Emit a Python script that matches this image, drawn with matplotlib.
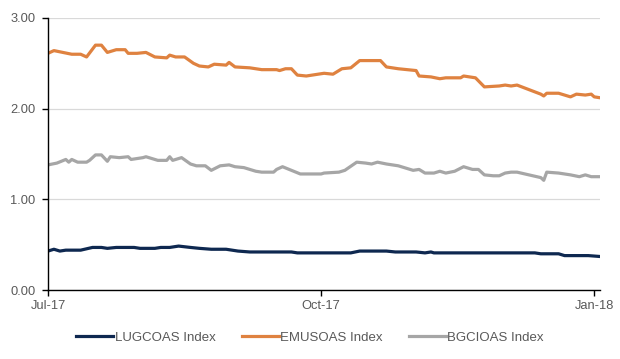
import matplotlib
matplotlib.use("Agg")
import matplotlib.pyplot as plt
import pandas as pd

plt.rcParams['font.family'] = ['Liberation Sans', 'DejaVu Sans']

START = "2017-07-01"

# Days since 2017-07-01 and values
lug_days = [0, 2, 4, 6, 11, 15, 18, 20, 23, 29, 31, 36, 38, 41, 44, 48, 51, 55, 60, 64,
            68, 82, 84, 92, 102, 105, 114, 117, 124, 127, 129, 130, 164, 166, 172, 174, 182, 186]
lug_vals = [0.43, 0.45, 0.43, 0.44, 0.44, 0.47, 0.47, 0.46, 0.47, 0.47, 0.46, 0.46, 0.47, 0.47,
            0.485, 0.47, 0.46, 0.45, 0.45, 0.43, 0.42, 0.42, 0.41, 0.41, 0.41, 0.43, 0.43, 0.42,
            0.42, 0.41, 0.42, 0.41, 0.41, 0.40, 0.40, 0.38, 0.38, 0.37]

emu_days = [0, 2, 5, 8, 11, 13, 16, 18, 20, 23, 26, 27, 30, 33, 36, 40, 41, 43, 46, 49, 51,
            54, 56, 60, 61, 63, 68, 72, 77, 78, 80, 82, 84, 87, 91, 93, 96, 99, 102, 105, 112,
            114, 116, 118, 124, 125, 129, 132, 134, 139, 140, 144, 147, 152, 154, 156, 158,
            162, 166, 167, 168, 172, 176, 178, 181, 183, 184, 186]
emu_vals = [2.61, 2.64, 2.62, 2.60, 2.60, 2.57, 2.70, 2.70, 2.62, 2.65, 2.65, 2.61, 2.61, 2.62,
            2.57, 2.56, 2.59, 2.57, 2.57, 2.50, 2.47, 2.46, 2.49, 2.48, 2.51, 2.46, 2.45, 2.43,
            2.43, 2.42, 2.44, 2.44, 2.37, 2.36, 2.38, 2.39, 2.38, 2.44, 2.45, 2.53, 2.53, 2.46,
            2.45, 2.44, 2.42, 2.36, 2.35, 2.33, 2.34, 2.34, 2.36, 2.34, 2.24, 2.25, 2.26, 2.25,
            2.26, 2.21, 2.16, 2.14, 2.17, 2.17, 2.13, 2.16, 2.15, 2.16, 2.13, 2.12]

bgc_days = [0, 3, 6, 7, 8, 10, 13, 14, 16, 18, 20, 21, 24, 27, 28, 32, 33, 34, 37, 40, 41, 42,
            45, 48, 50, 53, 55, 58, 61, 63, 66, 70, 72, 76, 77, 79, 82, 85, 92, 93, 98, 100,
            104, 107, 109, 111, 114, 118, 120, 123, 125, 127, 130, 132, 134, 137, 140, 143,
            145, 147, 150, 152, 154, 156, 158, 162, 166, 167, 168, 172, 176, 179, 181, 183, 186]
bgc_vals = [1.38, 1.40, 1.44, 1.41, 1.44, 1.41, 1.41, 1.43, 1.49, 1.49, 1.42, 1.47, 1.46, 1.47,
            1.44, 1.46, 1.47, 1.46, 1.43, 1.43, 1.47, 1.43, 1.46, 1.39, 1.37, 1.37, 1.32, 1.37,
            1.38, 1.36, 1.35, 1.31, 1.30, 1.30, 1.33, 1.36, 1.32, 1.28, 1.28, 1.29, 1.30, 1.32,
            1.41, 1.40, 1.39, 1.41, 1.39, 1.37, 1.35, 1.32, 1.33, 1.29, 1.29, 1.31, 1.29, 1.31,
            1.36, 1.33, 1.33, 1.27, 1.26, 1.26, 1.29, 1.30, 1.30, 1.27, 1.24, 1.21, 1.30, 1.29,
            1.27, 1.25, 1.27, 1.25, 1.25]

series_names = ["LUGCOAS Index", "EMUSOAS Index", "BGCIOAS Index"]
colors = ["#0E2850", "#DF8240", "#A6A6A6"]
tick_dates = ["2017-07-01", "2017-10-01", "2018-01-01"]
tick_labels = ["Jul-17", "Oct-17", "Jan-18"]
y_ticks = [0, 1, 2, 3]
y_labels = ["0.00", "1.00", "2.00", "3.00"]

def to_dates(days):
    return pd.Timestamp(START) + pd.to_timedelta(days, unit="D")

fig = plt.figure(figsize=(6.2, 3.59), dpi=100)
ax = fig.add_axes([0.0774, 0.192, 0.8906, 0.758])

for days, vals, name, c in zip([lug_days, emu_days, bgc_days],
                               [lug_vals, emu_vals, bgc_vals],
                               series_names, colors):
    ax.plot(to_dates(days), vals, color=c, lw=2.3, label=name, solid_joinstyle='round')

ax.set_ylim(0, 3)
ax.set_xlim(pd.Timestamp(START), pd.Timestamp(START) + pd.Timedelta(days=186))
ax.set_yticks(y_ticks)
ax.set_yticklabels(y_labels)
ax.set_xticks(pd.to_datetime(tick_dates))
ax.set_xticklabels(tick_labels)
ax.grid(axis='y', color='#D9D9D9', lw=0.9)
ax.set_axisbelow(True)
for s in ['top', 'right']:
    ax.spines[s].set_visible(False)
for s in ['left', 'bottom']:
    ax.spines[s].set_color('black')
    ax.spines[s].set_linewidth(1.0)
ax.tick_params(axis='both', colors='black', labelcolor='#595959', labelsize=9.3,
               length=4, width=1)
ax.tick_params(axis='y', pad=5)
ax.tick_params(axis='x', pad=3)

leg = fig.legend(loc='center', bbox_to_anchor=(0.5, 0.06), ncol=3, frameon=False,
                 fontsize=9.5, handlelength=2.8, handletextpad=0.1, columnspacing=2.0)
for t in leg.get_texts():
    t.set_color('#595959')

fig.savefig("out.png", dpi=100)
